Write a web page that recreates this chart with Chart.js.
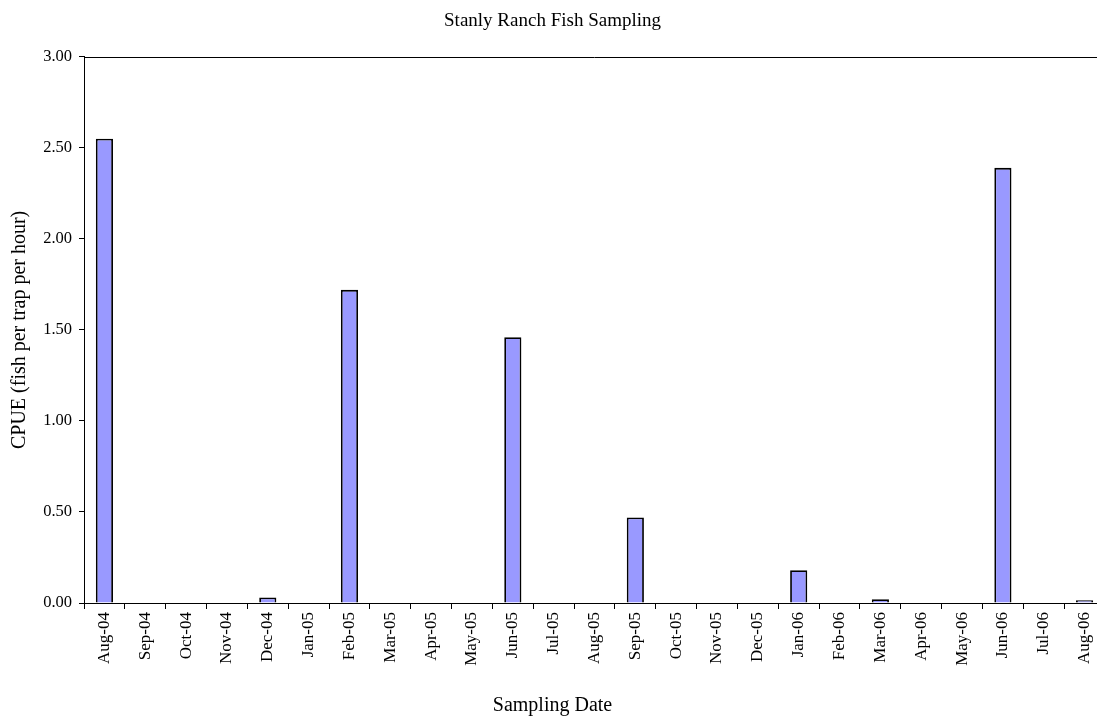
<!DOCTYPE html>
<html>
<head>
<meta charset="utf-8">
<script src="https://cdn.jsdelivr.net/npm/chart.js@4/dist/chart.umd.min.js"></script>
<style>
  html, body { margin: 0; padding: 0; background: #fff; overflow: hidden; }
  #wrap { position: relative; width: 1110px; height: 724px; }
</style>
</head>
<body>
<div id="wrap"><canvas id="c"></canvas></div>
<script>
const categories = ["Aug-04","Sep-04","Oct-04","Nov-04","Dec-04","Jan-05","Feb-05","Mar-05","Apr-05","May-05","Jun-05","Jul-05","Aug-05","Sep-05","Oct-05","Nov-05","Dec-05","Jan-06","Feb-06","Mar-06","Apr-06","May-06","Jun-06","Jul-06","Aug-06"];
const cpue = [2.55,0,0,0,0.03,0,1.72,0,0,0,1.46,0,0,0.47,0,0,0,0.18,0,0.02,0,0,2.39,0,0.015];
const yTicks = [0,0.5,1,1.5,2,2.5,3];

const FONT = "'Liberation Serif','Times New Roman',serif";

const topBorder = {
  id: 'topBorder',
  afterDraw(chart) {
    const {ctx, chartArea} = chart;
    const y = chart.scales.y.getPixelForValue(3);
    ctx.save();
    ctx.strokeStyle = '#000';
    ctx.lineWidth = 1;
    ctx.beginPath();
    ctx.moveTo(chartArea.left, Math.round(y) + 0.5);
    ctx.lineTo(chartArea.right, Math.round(y) + 0.5);
    ctx.stroke();
    ctx.restore();
  }
};

new Chart(document.getElementById('c'), {
  type: 'bar',
  data: {
    labels: categories,
    datasets: [{
      data: cpue,
      backgroundColor: '#9999FF',
      borderColor: '#000000',
      borderWidth: 1.8,
      barPercentage: 0.42,
      categoryPercentage: 1.0
    }]
  },
  options: {
    responsive: true,
    maintainAspectRatio: false,
    animation: false,
    layout: { padding: { left: 0, right: 5, top: 0, bottom: 0 } },
    plugins: {
      legend: { display: false },
      tooltip: { enabled: false },
      title: {
        display: true,
        text: 'Stanly Ranch Fish Sampling',
        color: '#000',
        font: { family: FONT, size: 19, weight: 'normal' },
        padding: { top: 10, bottom: 24 }
      },
      subtitle: {
        display: true,
        position: 'bottom',
        text: 'Sampling Date',
        color: '#000',
        font: { family: FONT, size: 20, weight: 'normal' },
        padding: { top: 0, bottom: 6 }
      }
    },
    scales: {
      x: {
        offset: true,
        grid: { display: true, offset: true, drawOnChartArea: false, drawTicks: true, tickLength: 6, color: '#000', lineWidth: 1 },
        border: { display: true, color: '#000', width: 1 },
        ticks: { color: '#000', font: { family: FONT, size: 17 }, maxRotation: 90, minRotation: 90, autoSkip: false, padding: 3 },
        title: { display: false },
        afterFit(scale) { scale.height = 91; }
      },
      y: {
        min: 0, max: 3,
        afterBuildTicks(scale) { scale.ticks = yTicks.map(v => ({ value: v })); },
        grid: { display: true, drawOnChartArea: false, drawTicks: true, tickLength: 5, color: '#000', lineWidth: 1 },
        border: { display: true, color: '#000', width: 1 },
        ticks: { color: '#000', font: { family: FONT, size: 16.5 }, padding: 7, callback: v => Number(v).toFixed(2) },
        title: { display: true, text: 'CPUE (fish per trap per hour)', color: '#000', font: { family: FONT, size: 20 }, padding: { top: 8, bottom: 0 } },
        afterFit(scale) { scale.width = 84; }
      }
    }
  },
  plugins: [topBorder]
});
</script>
</body>
</html>
